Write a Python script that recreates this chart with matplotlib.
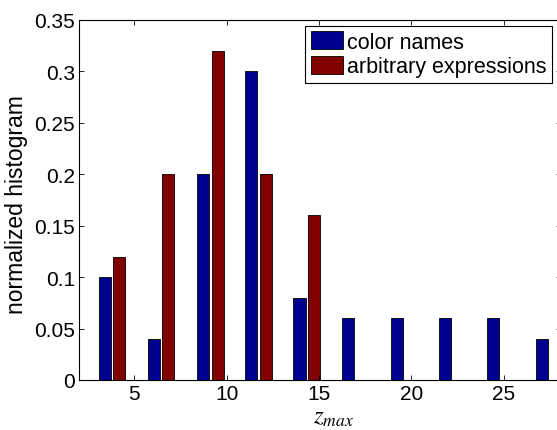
import numpy as np
import matplotlib
matplotlib.use('Agg')
import matplotlib.pyplot as plt

plt.rcParams['font.family'] = ['Liberation Sans', 'DejaVu Sans']
plt.rcParams['mathtext.fontset'] = 'stix'

# histogram bin centres (z_max) and normalized counts
bin_centers = [3.81, 6.46, 9.12, 11.72, 14.32, 16.97, 19.6, 22.2, 24.8, 27.45]
color_names = [0.10, 0.04, 0.20, 0.30, 0.08, 0.06, 0.06, 0.06, 0.06, 0.04]
arbitrary_expr = [0.12, 0.20, 0.32, 0.20, 0.16, 0.0, 0.0, 0.0, 0.0, 0.0]
xticks = [5, 10, 15, 20, 25]
yticks = [0, 0.05, 0.1, 0.15, 0.2, 0.25, 0.3, 0.35]
ytick_labels = ['0', '0.05', '0.1', '0.15', '0.2', '0.25', '0.3', '0.35']

fig = plt.figure(figsize=(5.57, 4.31), dpi=100)
ax = fig.add_axes([79 / 557, 1 - 381 / 431, 482 / 557, 360 / 431])

x = np.array(bin_centers)
w = 0.65
off = 0.38
ax.bar(x - off, color_names, width=w, color='#00008f', edgecolor='black',
       linewidth=0.6, label='color names')
ax.bar(x + off, arbitrary_expr, width=w, color='#800000', edgecolor='black',
       linewidth=0.6, label='arbitrary expressions')

ax.set_xlim(2.0, 28.1)
ax.set_ylim(0, 0.35)
ax.set_xticks(xticks)
ax.set_yticks(yticks)
ax.set_yticklabels(ytick_labels)
ax.tick_params(direction='in', length=3.5, width=0.6, labelsize=15,
               top=True, right=True, pad=3)
for s in ax.spines.values():
    s.set_linewidth(0.8)

ax.set_ylabel('normalized histogram', fontsize=16.5)
ax.yaxis.set_label_coords(-0.105, 0.49)
ax.set_xlabel('$z_{max}$', fontsize=18)
ax.xaxis.set_label_coords(0.527, -0.068)

leg = ax.legend(loc='upper right', bbox_to_anchor=(552 / 557, 1 - 27 / 431),
                bbox_transform=fig.transFigure, borderaxespad=0,
                fancybox=False, edgecolor='black', framealpha=1,
                fontsize=15.5, handlelength=1.5, handleheight=0.9,
                handletextpad=0.2, borderpad=0.25, labelspacing=0.15)
leg.get_frame().set_linewidth(0.8)

fig.savefig('out.png', dpi=100)
